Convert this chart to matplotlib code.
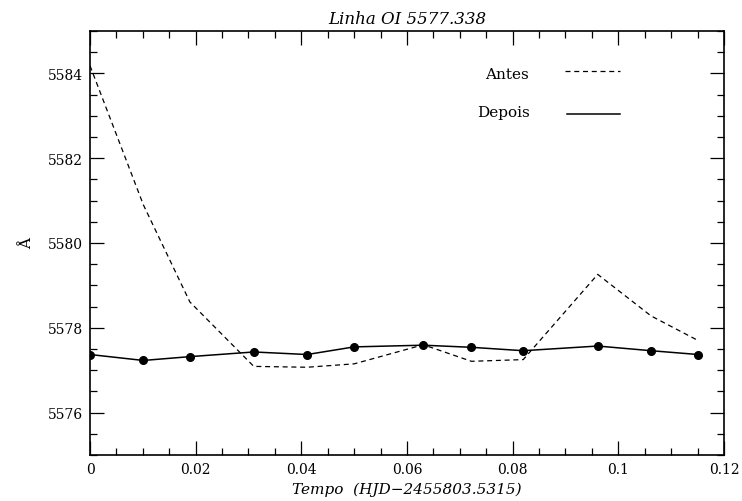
import matplotlib
matplotlib.use("Agg")
import matplotlib.pyplot as plt
from matplotlib.ticker import MultipleLocator

# time (HJD - 2455803.5315)
tempo = [0.0, 0.0101, 0.0189, 0.0310, 0.0411, 0.0500, 0.0631, 0.0722, 0.0820, 0.0961, 0.1062, 0.1151]
# line centre before / after correction (Angstrom)
antes = [5584.18, 5580.9, 5578.61, 5577.09, 5577.07, 5577.15, 5577.60, 5577.21, 5577.25, 5579.26, 5578.28, 5577.70]
depois = [5577.37, 5577.23, 5577.32, 5577.43, 5577.37, 5577.55, 5577.59, 5577.54, 5577.46, 5577.57, 5577.46, 5577.37]
xtick_labels = ["0", "0.02", "0.04", "0.06", "0.08", "0.1", "0.12"]

plt.rcParams.update({"font.family": ["DejaVu Serif"], "font.size": 11})
fig = plt.figure(figsize=(7.42, 5.02), dpi=100)
ax = fig.add_axes([0.1213, 0.0916, 0.8544, 0.8447])

ax.plot(tempo, antes, color="black", linestyle=(0, (4, 3)), linewidth=0.9)
ax.plot(tempo, depois, color="black", linestyle="-", linewidth=1.1,
        marker="o", markersize=5.5)

ax.set_xlim(0, 0.12)
ax.set_ylim(5575, 5585)
ax.set_xticks([0, 0.02, 0.04, 0.06, 0.08, 0.1, 0.12])
ax.set_xticklabels(xtick_labels)
ax.xaxis.set_minor_locator(MultipleLocator(0.005))
ax.yaxis.set_major_locator(MultipleLocator(2))
ax.yaxis.set_minor_locator(MultipleLocator(0.5))
ax.tick_params(which="both", direction="in", top=True, right=True, width=0.9, labelsize=10)
ax.tick_params(which="major", length=10, pad=5)
ax.tick_params(which="minor", length=5)
for s in ax.spines.values():
    s.set_linewidth(1.2)

# legend drawn as in the original (text + line sample)
ax.text(0.623, 0.899, "Antes", transform=ax.transAxes, fontsize=11, va="center", ha="left")
ax.plot([0.749, 0.836], [0.905, 0.905], transform=ax.transAxes, color="black",
        linestyle=(0, (4, 3)), linewidth=0.9)
ax.text(0.61, 0.809, "Depois", transform=ax.transAxes, fontsize=11, va="center", ha="left")
ax.plot([0.752, 0.836], [0.805, 0.805], transform=ax.transAxes, color="black",
        linestyle="-", linewidth=1.1)

ax.set_title("Linha OI 5577.338", fontstyle="italic", fontsize=12, pad=6)
ax.set_xlabel("Tempo  (HJD\u22122455803.5315)", fontstyle="italic", fontsize=11, labelpad=4)
ax.set_ylabel("Å", fontsize=11, labelpad=10)

fig.savefig("out.png", dpi=100)
